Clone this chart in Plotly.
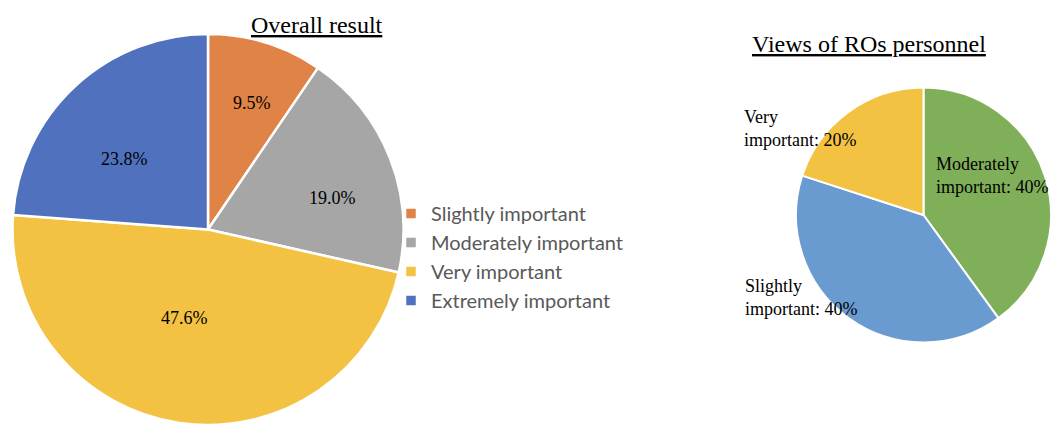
import plotly.graph_objects as go

# Overall result
overall_labels = ["Slightly important", "Moderately important", "Very important", "Extremely important"]
overall_values = [9.5, 19.0, 47.6, 23.8]
overall_colors = ["#E08346", "#A6A6A6", "#F4C242", "#5072BE"]

# Views of ROs personnel
ros_labels = ["Moderately important", "Slightly important", "Very important"]
ros_values = [40, 40, 20]
ros_colors = ["#80AF5A", "#6A9BD0", "#F4C242"]

W, H = 1051, 425
serif = "Liberation Serif, Times New Roman, serif"

fig = go.Figure()

fig.add_trace(go.Pie(
    labels=overall_labels,
    values=overall_values,
    sort=False,
    direction="clockwise",
    rotation=0,
    marker=dict(colors=overall_colors, line=dict(color="white", width=2.5)),
    textinfo="none",
    hoverinfo="label+value",
    domain=dict(x=[11 / W, 405 / W], y=[0, 1 - 34 / H]),
))

fig.add_trace(go.Pie(
    labels=ros_labels,
    values=ros_values,
    sort=False,
    direction="clockwise",
    rotation=0,
    marker=dict(colors=ros_colors, line=dict(color="white", width=2)),
    textinfo="none",
    hoverinfo="label+value",
    showlegend=False,
    domain=dict(x=[796 / W, 1051 / W], y=[1 - 345 / H, 1 - 85 / H]),
))

annotations = []

# Percentage labels inside the left-hand pie
overall_label_pos = {
    "Slightly important": (252, 103),
    "Moderately important": (332, 198),
    "Very important": (184, 318),
    "Extremely important": (124, 159),
}
for lab, val in zip(overall_labels, overall_values):
    px, py = overall_label_pos[lab]
    annotations.append(dict(
        x=px / W, y=1 - py / H, xref="paper", yref="paper",
        xanchor="center", yanchor="middle", showarrow=False,
        text=f"{val:.1f}%",
        font=dict(family=serif, size=18, color="black"),
    ))

# Two-line labels for the right-hand pie
ros_label_pos = {
    "Very important": (742, 129),
    "Moderately important": (934, 176),
    "Slightly important": (743, 297),
}
for lab, val in zip(ros_labels, ros_values):
    first, second = lab.split(" ", 1)
    px, py = ros_label_pos[lab]
    annotations.append(dict(
        x=px / W, y=1 - py / H, xref="paper", yref="paper",
        xanchor="left", yanchor="middle", align="left", showarrow=False,
        text=f"{first}<br>{second}: {val}%",
        font=dict(family=serif, size=18, color="black"),
    ))

annotations.append(dict(
    x=317 / W, y=1 - 25 / H, xref="paper", yref="paper",
    xanchor="center", yanchor="middle", showarrow=False,
    text="<u>Overall result</u>",
    font=dict(family=serif, size=24, color="black"),
))
annotations.append(dict(
    x=869 / W, y=1 - 44 / H, xref="paper", yref="paper",
    xanchor="center", yanchor="middle", showarrow=False,
    text="<u>Views of ROs personnel</u>",
    font=dict(family=serif, size=24, color="black"),
))

fig.update_layout(
    width=W, height=H,
    margin=dict(l=0, r=0, t=0, b=0),
    paper_bgcolor="white",
    plot_bgcolor="white",
    showlegend=True,
    legend=dict(
        x=391 / W, y=1 - 194 / H, xanchor="left", yanchor="top",
        font=dict(family="Lato, sans-serif", size=20, color="#595959"),
        bgcolor="rgba(0,0,0,0)",
        traceorder="normal",
    ),
    annotations=annotations,
)

fig.write_html("out.html")
